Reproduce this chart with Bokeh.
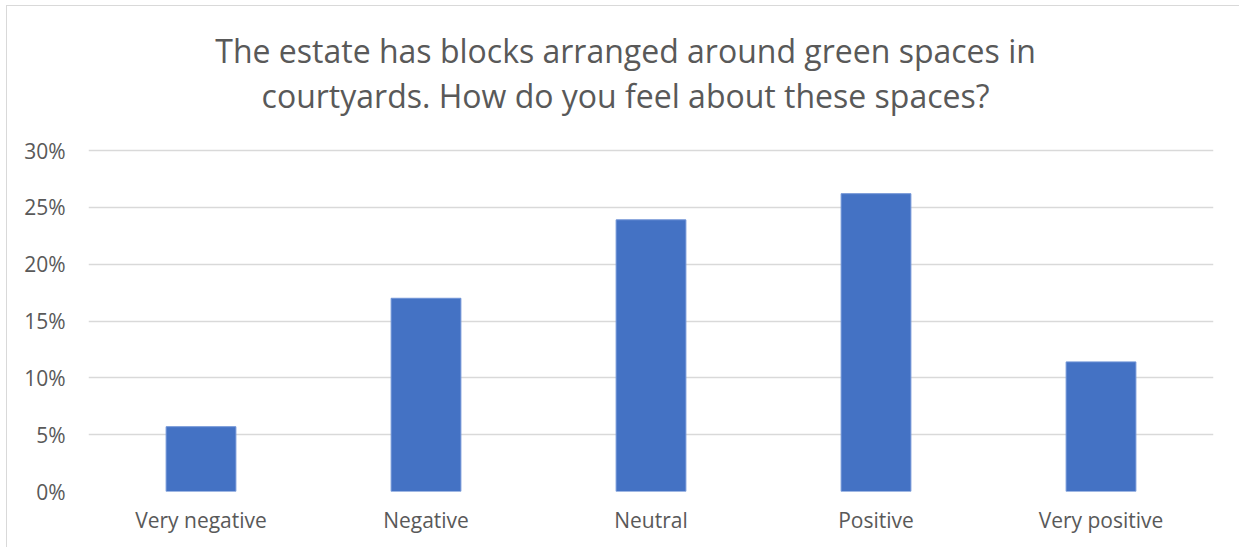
from bokeh.plotting import figure
from bokeh.models import ColumnDataSource, FactorRange, FixedTicker, NumeralTickFormatter, Label, Range1d
from bokeh.embed import file_html
from bokeh.resources import INLINE

categories = ["Very negative", "Negative", "Neutral", "Positive", "Very positive"]
shares = [0.057, 0.170, 0.239, 0.262, 0.114]
y_ticks = [0.0, 0.05, 0.10, 0.15, 0.20, 0.25, 0.30]
title_lines = ["The estate has blocks arranged around green spaces in",
               "courtyards. How do you feel about these spaces?"]

FONT = "Open Sans"
TEXT_COLOR = "#595959"
BAR_COLOR = "#4472C4"
GRID_COLOR = "#d9d9d9"

# the frame reaches up to the top of the chart so that the title lines can sit in it
Y_TOP = 0.30 * 485 / 341

src = ColumnDataSource(data=dict(cat=categories, val=shares))

p = figure(x_range=FactorRange(*categories), y_range=Range1d(0, Y_TOP),
           width=1233, height=542, output_backend="svg", toolbar_location=None,
           min_border_left=81, min_border_right=27, min_border_top=0, min_border_bottom=57)
p.title = None
p.margin = (5, 0, 0, 6)
p.styles = {"border-left": "1px solid #d9d9d9", "border-top": "1px solid #d9d9d9"}
p.outline_line_color = None
p.background_fill_color = "white"
p.border_fill_color = "white"

p.vbar(x="cat", top="val", width=0.31, source=src, fill_color=BAR_COLOR,
       line_color="#6f93d6", line_width=1)

p.yaxis.ticker = FixedTicker(ticks=y_ticks)
p.yaxis.formatter = NumeralTickFormatter(format="0%")
for ax in (p.xaxis[0], p.yaxis[0]):
    ax.axis_line_color = None
    ax.major_tick_line_color = None
    ax.minor_tick_line_color = None
    ax.major_tick_out = 0
    ax.major_tick_in = 0
    ax.major_label_text_font = FONT
    ax.major_label_text_font_size = "21px"
    ax.major_label_text_color = TEXT_COLOR
p.yaxis.major_label_standoff = 23
p.xaxis.major_label_standoff = 14

p.xgrid.grid_line_color = None
p.ygrid.ticker = FixedTicker(ticks=y_ticks)
p.ygrid.grid_line_color = GRID_COLOR
p.ygrid.grid_line_width = 1.5

# two-line chart title, centred slightly left of the frame centre
for txt, y in zip(title_lines, [0.30 * 441 / 341, 0.30 * 396 / 341]):
    p.add_layout(Label(x=2.387, y=y, text=txt,
                       text_align="center", text_baseline="alphabetic",
                       text_font=FONT, text_font_size="32px",
                       text_color=TEXT_COLOR))

open("out.html", "w").write(file_html(p, INLINE))
